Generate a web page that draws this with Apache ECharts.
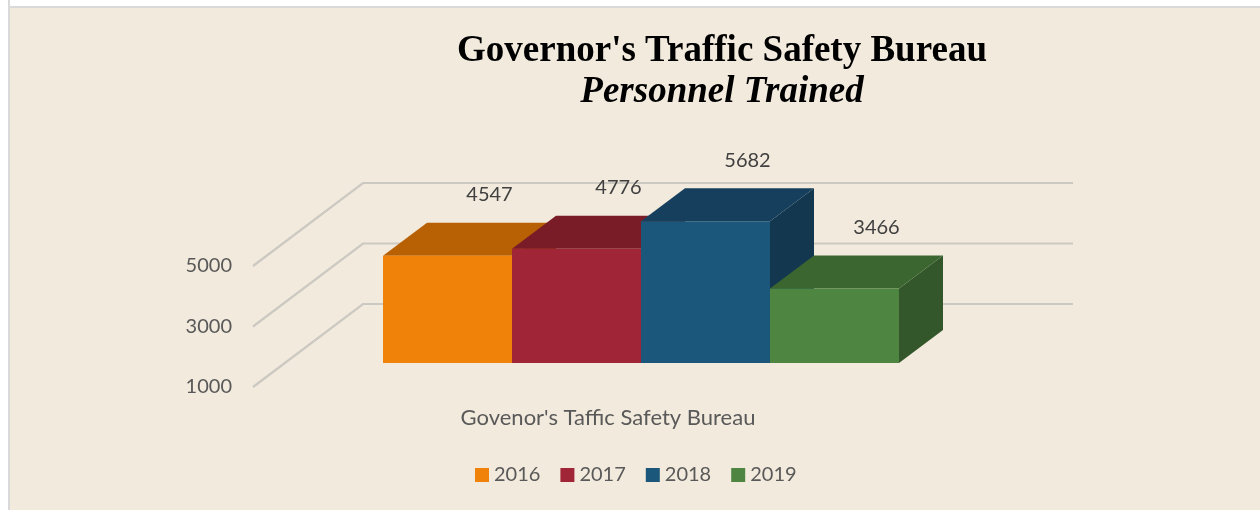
<!DOCTYPE html>
<html>
<head>
<meta charset="utf-8">
<script src="https://cdn.jsdelivr.net/npm/echarts@6/dist/echarts.min.js"></script>
<style>
    body { margin: 0; background: #ffffff; }
    #container { position: absolute; left: 0; top: 0; width: 1260px; height: 510px; }
    .edge { position: absolute; background: #ffffff; pointer-events: none; }
</style>
</head>
<body>
<div id="container"></div>
<div class="edge" style="left:0;top:0;width:1260px;height:6px;border-bottom:2px solid #d9d9d9;"></div>
<div class="edge" style="left:0;top:0;width:8px;height:510px;border-right:2px solid #d9d9d9;"></div>
<script>
var years = ['2016', '2017', '2018', '2019'];
var trained = [4547, 4776, 5682, 3466];
var category = ["Govenor's Taffic Safety Bureau"];
var yTicks = [1000, 3000, 5000];

// face colours: front, top, side
var frontColors = ['#f0820a', '#a02536', '#1b577a', '#4e8541'];
var topColors = ['#b86004', '#7a1c27', '#163f5d', '#3b6630'];
var sideColors = ['#a65604', '#6e1a23', '#12374f', '#33572a'];

// fake 3d: wall depth and bar depth offsets in px
var WALL_DX = 110, WALL_DY = -83;
var FRONT_DX = 33, FRONT_DY = -24;
var DEPTH_DX = 44, DEPTH_DY = -33;
var BAR_FRAC = 129 / 710;

var dom = document.getElementById('container');
var myChart = echarts.init(dom, null, { renderer: 'canvas' });

function gridRender(params, api) {
    var p = api.coord([api.value(0), api.value(1)]);
    var w = api.size([1, 0])[0];
    var left = p[0] - w / 2;
    return {
        type: 'polyline',
        shape: {
            points: [
                [left, p[1]],
                [left + WALL_DX, p[1] + WALL_DY],
                [left + w + WALL_DX, p[1] + WALL_DY]
            ]
        },
        style: { stroke: '#ccc8c2', lineWidth: 2.2, fill: null },
        silent: true
    };
}

function barSeries(i) {
    return {
        name: years[i],
        type: 'custom',
        z: 2 + i,
        itemStyle: { color: frontColors[i] },
        data: [[0, trained[i]]],
        renderItem: function (params, api) {
            var p = api.coord([api.value(0), api.value(1)]);
            var base = api.coord([api.value(0), yTicks[0]]);
            var w = api.size([1, 0])[0];
            var bw = w * BAR_FRAC;
            var x0 = p[0] - 2 * bw + i * bw + FRONT_DX;
            var yTop = p[1] + FRONT_DY;
            var yBot = base[1] + FRONT_DY;
            return {
                type: 'group',
                children: [
                    {
                        type: 'polygon',
                        shape: { points: [[x0 + bw, yTop], [x0 + bw + DEPTH_DX, yTop + DEPTH_DY], [x0 + bw + DEPTH_DX, yBot + DEPTH_DY], [x0 + bw, yBot]] },
                        style: { fill: sideColors[i] }
                    },
                    {
                        type: 'polygon',
                        shape: { points: [[x0, yTop], [x0 + bw, yTop], [x0 + bw + DEPTH_DX, yTop + DEPTH_DY], [x0 + DEPTH_DX, yTop + DEPTH_DY]] },
                        style: { fill: topColors[i] }
                    },
                    {
                        type: 'rect',
                        shape: { x: x0, y: yTop, width: bw, height: yBot - yTop },
                        style: { fill: frontColors[i] }
                    },
                    {
                        type: 'text',
                        style: {
                            text: String(api.value(1)),
                            x: x0 + bw / 2 + DEPTH_DX - 2,
                            y: yTop + DEPTH_DY - 28,
                            align: 'center',
                            verticalAlign: 'middle',
                            fill: '#404040',
                            fontSize: 20,
                            fontFamily: 'Lato'
                        }
                    }
                ]
            };
        }
    };
}

var series = [{
    name: 'grid',
    type: 'custom',
    z: 1,
    silent: true,
    data: yTicks.map(function (v) { return [0, v]; }),
    renderItem: gridRender
}];
for (var i = 0; i < years.length; i++) {
    series.push(barSeries(i));
}

var option = {
    backgroundColor: '#f2eadd',
    animation: false,
    title: {
        text: "Governor's Traffic Safety Bureau",
        subtext: 'Personnel Trained',
        left: 717,
        top: 28,
        textAlign: 'center',
        itemGap: 4,
        textStyle: { fontFamily: 'Liberation Serif', fontWeight: 'bold', fontSize: 37, color: '#000000' },
        subtextStyle: { fontFamily: 'Liberation Serif', fontWeight: 'bold', fontStyle: 'italic', fontSize: 37, color: '#000000' }
    },
    legend: {
        data: years,
        left: 470,
        top: 460,
        icon: 'rect',
        itemWidth: 14,
        itemHeight: 14,
        itemGap: 20,
        textStyle: { fontFamily: 'Lato', fontSize: 20, color: '#595959' }
    },
    grid: { left: 253, right: 297, top: 266, bottom: 123 },
    xAxis: {
        type: 'category',
        data: category,
        axisLine: { show: false },
        axisTick: { show: false },
        splitLine: { show: false },
        axisLabel: { margin: 20, fontFamily: 'Lato', fontSize: 22, color: '#595959' }
    },
    yAxis: {
        type: 'value',
        min: 1000,
        max: 5000,
        interval: 2000,
        axisLine: { show: false },
        axisTick: { show: false },
        splitLine: { show: false },
        axisLabel: {
            margin: 21, fontFamily: 'Lato', fontSize: 20, color: '#595959',
            formatter: function (v) { return String(v); }
        }
    },
    series: series
};

myChart.setOption(option);
window.addEventListener('resize', myChart.resize);
</script>
</body>
</html>
